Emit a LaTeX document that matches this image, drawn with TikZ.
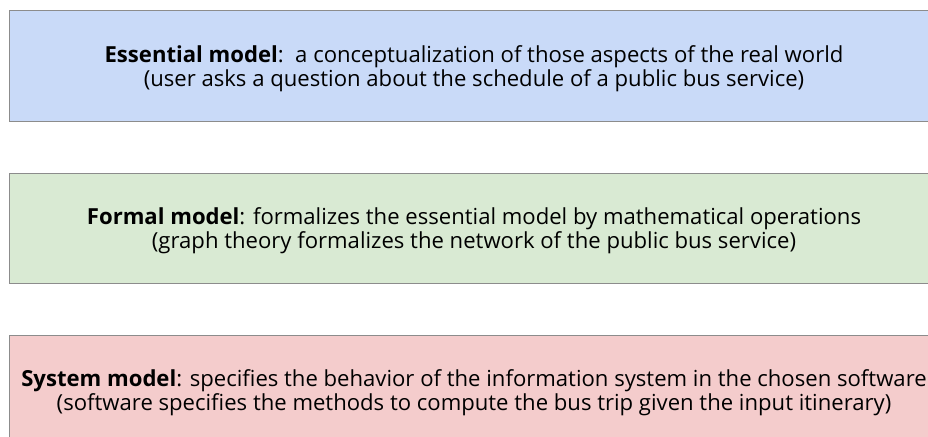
\documentclass[tikz,border=0pt]{standalone}
\usepackage{fontspec}
\setmainfont{Open Sans}
\usetikzlibrary{positioning}

\definecolor{essblue}{HTML}{C9DAF8}
\definecolor{formgreen}{HTML}{D9EAD3}
\definecolor{sysred}{HTML}{F4CCCC}
\definecolor{edgegray}{HTML}{8C8C8C}

\tikzset{
  modelbox/.style={draw=edgegray, line width=1pt, rectangle, align=center,
    minimum width=930pt, minimum height=110pt, inner sep=0pt, text depth=0pt,
    font=\fontsize{22.1}{24}\selectfont}
}

\begin{document}
\begin{tikzpicture}[x=1pt,y=-1pt]
  \useasboundingbox (0,0) rectangle (928,436);
  \clip (0,0) rectangle (928,436);
  % the three levels of modelling
  \node[modelbox, fill=essblue] (essential) at (474,66)
    {\textbf{Essential model}:\ \ a conceptualization of those aspects of the real world\\
     (user asks a question about the schedule of a public bus service)};
  \node[modelbox, fill=formgreen, below=51pt of essential] (formal)
    {\textbf{Formal model}: formalizes the essential model by mathematical operations\\
     (graph theory formalizes the network of the public bus service)};
  \node[modelbox, fill=sysred, below=51pt of formal] (system)
    {\textbf{System model}: specifies the behavior of the information system in the chosen software\\
     (software specifies the methods to compute the bus trip given the input itinerary)};
\end{tikzpicture}
\end{document}
